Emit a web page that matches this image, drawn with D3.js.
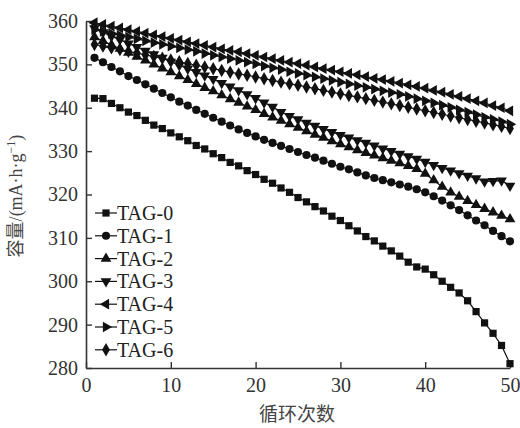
<!DOCTYPE html>
<html>
<head>
<meta charset="utf-8">
<script src="https://cdn.jsdelivr.net/npm/d3@7"></script>
<style>
  body { margin: 0; background: #fff; }
</style>
</head>
<body>
<svg id="chart" width="520" height="428"></svg>
<script>
// cycle numbers (x)
var cycles = [1,2,3,4,5,6,7,8,9,10,11,12,13,14,15,16,17,18,19,20,21,22,23,24,25,
  26,27,28,29,30,31,32,33,34,35,36,37,38,39,40,41,42,43,44,45,46,47,48,49,50];

// capacity, mA·h·g-1
var tag0 = [342.2,342.1,341.0,340.0,339.0,338.2,337.1,336.0,335.2,334.2,333.3,332.4,331.3,330.5,329.4,328.5,327.4,326.6,325.5,324.6,
  323.5,322.6,321.5,320.5,319.3,318.3,317.2,316.2,315.0,314.0,312.8,311.6,310.3,309.3,308.1,307.0,305.8,304.4,303.3,302.8,
  301.5,300.0,298.6,297.3,295.5,293.0,290.4,288.0,285.2,281.0];
var tag1 = [351.5,350.5,349.4,348.4,347.3,346.4,345.4,344.4,343.4,342.4,341.4,340.5,339.5,338.6,337.7,336.8,335.9,335.0,334.2,333.4,
  332.6,331.9,331.2,330.5,329.8,329.1,328.5,327.8,327.1,326.4,325.8,325.1,324.4,323.8,323.3,322.8,322.3,321.8,321.2,320.5,
  319.6,318.6,317.5,316.4,315.2,314.0,312.9,311.6,310.4,309.2];
var tag2 = [356.3,355.4,354.5,353.6,352.7,351.8,350.9,350.0,349.1,348.2,347.3,346.4,345.5,344.6,343.8,342.9,342.0,341.2,340.3,339.5,
  338.6,337.8,337.0,336.2,335.4,334.6,333.8,333.1,332.3,331.6,330.9,330.2,329.6,329.0,328.4,327.8,327.2,326.6,325.9,324.8,
  323.3,321.8,320.5,319.5,318.5,317.6,316.7,315.9,315.1,314.3];
var tag3 = [358.3,357.4,356.5,355.7,354.8,354.0,353.1,352.3,351.5,350.6,349.8,349.0,348.2,347.4,346.6,345.7,344.9,344.0,343.1,342.2,
  341.2,340.2,339.0,338.1,337.3,336.5,335.8,335.1,334.4,333.7,333.1,332.5,331.9,331.3,330.6,330.0,329.4,328.8,328.2,327.5,
  326.8,326.1,325.5,324.9,324.3,323.7,323.0,323.1,323.2,322.0];
var tag4 = [359.6,359.2,358.8,358.4,358.0,357.6,357.2,356.8,356.4,356.0,355.6,355.2,354.8,354.4,354.0,353.6,353.2,352.9,352.5,352.1,
  351.7,351.3,350.9,350.5,350.2,349.8,349.4,349.0,348.7,348.3,347.9,347.6,347.2,346.8,346.5,346.1,345.7,345.3,344.9,344.5,
  344.0,343.6,343.1,342.6,342.1,341.6,341.1,340.5,340.0,339.3];
var tag5 = [358.0,357.6,357.1,356.7,356.3,355.9,355.4,355.0,354.6,354.2,353.8,353.4,353.0,352.5,352.1,351.7,351.3,350.9,350.5,350.1,
  349.6,349.2,348.8,348.3,347.9,347.5,347.1,346.7,346.3,345.9,345.5,345.1,344.7,344.3,343.9,343.5,343.1,342.6,342.1,341.6,
  341.1,340.6,340.1,339.5,339.0,338.4,337.8,337.3,336.8,336.2];
var tag6 = [354.6,354.2,353.8,353.4,353.0,352.6,352.2,351.8,351.4,351.0,350.6,350.2,349.8,349.4,349.0,348.6,348.2,347.8,347.5,347.1,
  346.7,346.3,345.9,345.5,345.2,344.8,344.4,344.0,343.6,343.2,342.8,342.5,342.1,341.7,341.3,340.9,340.5,340.1,339.7,339.3,
  338.9,338.5,338.1,337.7,337.3,336.9,336.5,336.1,335.7,335.2];

var names = ["TAG-0","TAG-1","TAG-2","TAG-3","TAG-4","TAG-5","TAG-6"];
var xTicks = [0,10,20,30,40,50];
var yTicks = [280,290,300,310,320,330,340,350,360];

var serif = '"Liberation Serif", "Times New Roman", serif';
var cjk = '"Noto Sans CJK SC", sans-serif';

// marker shape and rotation per series
var shapes = [
  {sym: d3.symbolSquare, size: 52, rot: 0},
  {sym: d3.symbolCircle, size: 52, rot: 0},
  {sym: d3.symbolTriangle, size: 50, rot: 0},
  {sym: d3.symbolTriangle, size: 50, rot: 180},
  {sym: d3.symbolTriangle, size: 50, rot: -90},
  {sym: d3.symbolTriangle, size: 50, rot: 90},
  {sym: d3.symbolDiamond, size: 52, rot: 0}
];

var series = [tag0, tag1, tag2, tag3, tag4, tag5, tag6].map(function(vals, i){
  return {
    name: names[i],
    shape: shapes[i],
    pts: vals.map(function(v, j){ return [cycles[j], v]; })
  };
});

var svg = d3.select('#chart');
var x = d3.scaleLinear().domain([0, 50]).range([86, 510]);
var y = d3.scaleLinear().domain([280, 360]).range([368, 21]);

// axes, ticks pointing into the plot
var gx = svg.append('g').attr('transform', 'translate(0,' + y(280) + ')')
  .call(d3.axisBottom(x).tickValues(xTicks).tickSizeInner(-6).tickSizeOuter(0).tickPadding(10));
var gy = svg.append('g').attr('transform', 'translate(' + x(0) + ',0)')
  .call(d3.axisLeft(y).tickValues(yTicks).tickSizeInner(-6).tickSizeOuter(0).tickPadding(8));
[gx, gy].forEach(function(g){
  g.select('.domain').attr('stroke', '#333').attr('stroke-width', 1.6);
  g.selectAll('.tick line').attr('stroke', '#333').attr('stroke-width', 1.4);
  g.selectAll('.tick text').style('font-size', '20px').style('font-family', serif).attr('fill', '#333');
});

var line = d3.line().x(function(d){ return x(d[0]); }).y(function(d){ return y(d[1]); });

function symPath(s){ return d3.symbol().type(s.sym).size(s.size)(); }

series.forEach(function(s){
  svg.append('path').attr('d', line(s.pts))
    .attr('fill', 'none').attr('stroke', '#111').attr('stroke-width', 1.2);
  svg.append('g').selectAll('path').data(s.pts).enter().append('path')
    .attr('d', symPath(s.shape))
    .attr('transform', function(d){
      return 'translate(' + x(d[0]) + ',' + y(d[1]) + ') rotate(' + s.shape.rot + ')';
    })
    .attr('fill', '#111');
});

// legend
var leg = svg.append('g');
series.forEach(function(s, i){
  var ly = 213 + i * 22.8;
  leg.append('line').attr('x1', 95).attr('x2', 117).attr('y1', ly).attr('y2', ly)
    .attr('stroke', '#111').attr('stroke-width', 1.2);
  leg.append('path').attr('d', symPath(s.shape))
    .attr('transform', 'translate(106,' + ly + ') rotate(' + s.shape.rot + ')')
    .attr('fill', '#111');
  leg.append('text').attr('x', 117).attr('y', ly).attr('dy', '0.35em')
    .style('font-size', '20px').style('font-family', serif).attr('fill', '#222').text(s.name);
});

// axis titles
svg.append('text').attr('x', 297).attr('y', 421)
  .attr('text-anchor', 'middle').style('font-size', '19px')
  .style('font-family', cjk).attr('fill', '#444')
  .text('循环次数');

var yl = svg.append('text').attr('transform', 'translate(22,196) rotate(-90)')
  .attr('text-anchor', 'middle').style('font-size', '18px').attr('fill', '#444')
  .style('font-family', serif);
yl.append('tspan').style('font-family', cjk).text('容量');
yl.append('tspan').text('/(mA·h·g');
yl.append('tspan').style('font-size', '12px').attr('dy', -7).text('−1');
yl.append('tspan').attr('dy', 7).text(')');
</script>
</body>
</html>
